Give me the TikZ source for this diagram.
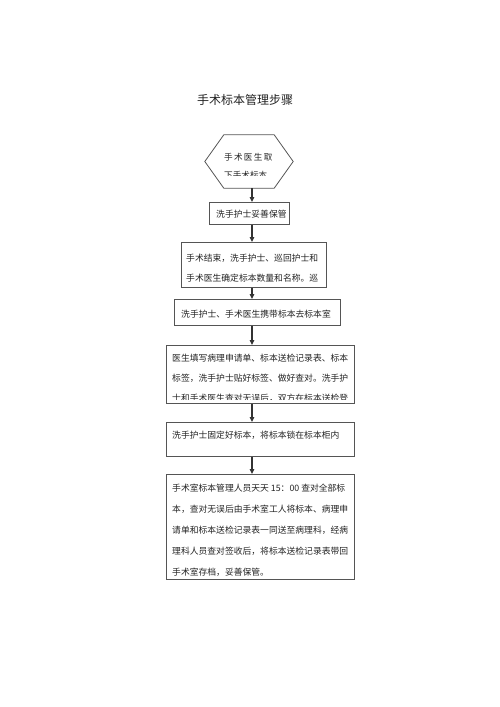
\documentclass[tikz,border=0pt]{standalone}
\usepackage{fontspec}
\newfontfamily\cjk{Noto Sans CJK SC}
\usepackage{xcolor}
\definecolor{cLine}{HTML}{555555}
\definecolor{cArr} {HTML}{333333}
\definecolor{cText}{HTML}{222222}
\usepackage{tikz}
\usetikzlibrary{arrows.meta, positioning, calc}
\tikzset{
  box/.style  = {rectangle, draw=cLine, line width=0.8pt, anchor=north west,
                 inner sep=0pt, minimum width=#1},
  box/.default = 188pt,
  hexb/.style = {rectangle, inner sep=0pt, minimum width=88pt,
                 minimum height=53pt},
  txt/.style  = {anchor=north west, inner sep=0pt, align=left, text=cText,
                 font=\cjk\fontsize{8.8}{20}\selectfont},
  arr/.style  = {-{Triangle[width=4.5pt,length=5pt]}, draw=cArr, line width=1.2pt},
}

\begin{document}
\begin{tikzpicture}[x=1pt, y=-1pt]
  \useasboundingbox (0,0) rectangle (500,707);

  \node[font=\cjk\fontsize{12}{14}\selectfont, text=cText] (ttl) at (245,100) {手术标本管理步骤};

  % hexagon start
  \node[hexb] (hex) at (249,161.5) {};
  \draw[cLine, line width=0.8pt] (hex.west) -- ([xshift=19]hex.north west)
      -- ([xshift=-19]hex.north east) -- (hex.east)
      -- ([xshift=-19]hex.south east) -- ([xshift=19]hex.south west) -- cycle;
  \begin{scope}
    \clip (205,140) rectangle (293,175);
    \node[txt, font=\cjk\fontsize{8.6}{17.5}\selectfont] (th) at (224,153.5)
      {手\hspace{1.3pt}术\hspace{1.3pt}医\hspace{1.3pt}生\hspace{1.3pt}取\\下手术标本};
  \end{scope}

  % boxes
  \node[box=80pt,  minimum height=22pt]  (b2) at (209,202) {};
  \node[box=145pt, minimum height=45pt]  (b3) at (181,242) {};
  \node[box=166pt, minimum height=26pt]  (b4) at (174,299) {};
  \node[box,       minimum height=58pt]  (b5) at (166,345) {};
  \node[box,       minimum height=34pt]  (b6) at (166,422) {};
  \node[box,       minimum height=105pt] (b7) at (166,474) {};

  \node[txt] (t2) at ([shift={(7,7.5)}]b2.north west) {洗手护士妥善保管};
  \begin{scope}
    \clip (b3.north west) rectangle (b3.south east);
    \node[txt] (t3) at ([shift={(5,12)}]b3.north west)
      {手术结束，洗手护士、巡回护士和\\手术医生确定标本数量和名称。巡};
  \end{scope}
  \node[txt] (t4) at ([shift={(7,10.5)}]b4.north west) {洗手护士、手术医生携带标本去标本室};
  \begin{scope}
    \clip (b5.north west) rectangle ([yshift=4.5]b5.south east);
    \node[txt, font=\cjk\fontsize{8.8}{20}\selectfont] (t5) at ([shift={(6,9)}]b5.north west)
      {医生填写病理申请单、标本送检记录表、标本\\标签，洗手护士贴好标签、做好查对。洗手护\\士和手术医生查对无误后，双方在标本送检登};
  \end{scope}
  \node[txt] (t6) at ([shift={(6,9)}]b6.north west) {洗手护士固定好标本，将标本锁在标本柜内};
  \node[txt, font=\cjk\fontsize{8.8}{21}\selectfont] (t7) at ([shift={(6,10)}]b7.north west)
    {手术室标本管理人员天天 15：00 查对全部标\\本，查对无误后由手术室工人将标本、病理申\\请单和标本送检记录表一同送至病理科，经病\\理科人员查对签收后，将标本送检记录表带回\\手术室存档，妥善保管。};

  \coordinate (spine) at (252,0);
  \draw[arr] (hex.south -| spine) -- (b2.north -| spine);
  \draw[arr] (b2.south -| spine) -- (b3.north -| spine);
  \draw[arr] (b3.south -| spine) -- (b4.north -| spine);
  \draw[arr] (b4.south -| spine) -- (b5.north -| spine);
  \draw[arr] (b5.south -| spine) -- (b6.north -| spine);
  \draw[arr] (b6.south -| spine) -- (b7.north -| spine);

\end{tikzpicture}
\end{document}
